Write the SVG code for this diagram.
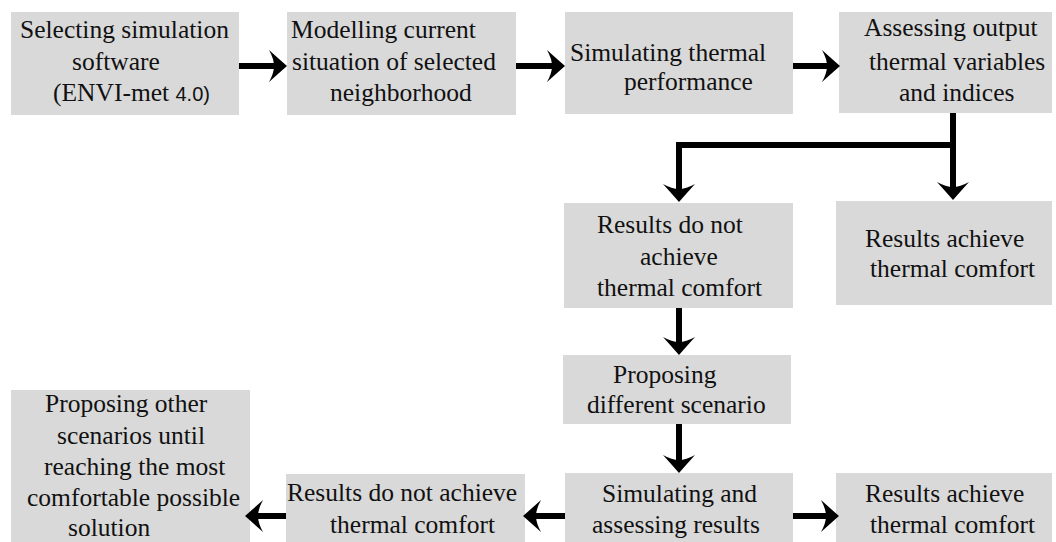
<svg xmlns="http://www.w3.org/2000/svg" width="1056" height="542" viewBox="0 0 1056 542">
<style>
.box{fill:#d9d9d9;}
.t{font-family:"Liberation Serif","Times New Roman",serif;font-size:25.5px;fill:#111;}
.s{font-family:"Liberation Sans",Arial,sans-serif;font-size:20px;}
.c{fill:none;stroke:#000;stroke-width:6;stroke-linejoin:miter;}
</style>
<defs>
<marker id="ah" viewBox="-20 -17 22 34" refX="-11" refY="0" markerWidth="22" markerHeight="34" markerUnits="userSpaceOnUse" orient="auto">
<path d="M0,0 Q-8,-7 -18,-16 Q-13,-7 -13,0 Q-13,7 -18,16 Q-8,7 0,0 Z" fill="#000"/>
</marker>
</defs>
<rect width="1056" height="542" fill="#fff"/>
<g id="n1"><rect class="box" x="11" y="12" width="228" height="103"/>
<text class="t"><tspan x="20" y="38">Selecting simulation</tspan><tspan x="72" y="70">software</tspan><tspan x="53" y="101">(ENVI-met <tspan class="s">4.0)</tspan></tspan></text></g>
<g id="n2"><rect class="box" x="287" y="12" width="229" height="103"/>
<text class="t"><tspan x="291" y="38">Modelling current</tspan><tspan x="292" y="70">situation of selected</tspan><tspan x="330" y="101">neighborhood</tspan></text></g>
<g id="n3"><rect class="box" x="565" y="12" width="228" height="102"/>
<text class="t"><tspan x="570" y="61">Simulating thermal</tspan><tspan x="624" y="90">performance</tspan></text></g>
<g id="n4"><rect class="box" x="839" y="12" width="213" height="101"/>
<text class="t"><tspan x="864" y="36">Assessing output</tspan><tspan x="869" y="70">thermal variables</tspan><tspan x="899" y="101">and indices</tspan></text></g>
<g id="n5"><rect class="box" x="564" y="203" width="229" height="105"/>
<text class="t"><tspan x="597" y="233">Results do not</tspan><tspan x="640" y="265">achieve</tspan><tspan x="597" y="296">thermal comfort</tspan></text></g>
<g id="n6"><rect class="box" x="836" y="201" width="216" height="104"/>
<text class="t"><tspan x="865" y="247">Results achieve</tspan><tspan x="870" y="277">thermal comfort</tspan></text></g>
<g id="n7"><rect class="box" x="563" y="355" width="228" height="69"/>
<text class="t"><tspan x="613" y="383">Proposing</tspan><tspan x="587" y="413">different scenario</tspan></text></g>
<g id="n8"><rect class="box" x="565" y="473" width="228" height="69"/>
<text class="t"><tspan x="602" y="502">Simulating and</tspan><tspan x="592" y="533">assessing results</tspan></text></g>
<g id="n9"><rect class="box" x="836" y="473" width="216" height="69"/>
<text class="t"><tspan x="865" y="502">Results achieve</tspan><tspan x="870" y="533">thermal comfort</tspan></text></g>
<g id="n10"><rect class="box" x="286" y="474" width="239" height="68"/>
<text class="t"><tspan x="287" y="501">Results do not achieve</tspan><tspan x="330" y="533">thermal comfort</tspan></text></g>
<g id="n11"><rect class="box" x="11" y="390" width="239" height="152"/>
<text class="t"><tspan x="45" y="412">Proposing other</tspan><tspan x="57" y="444">scenarios until</tspan><tspan x="44" y="475">reaching the most</tspan><tspan x="27" y="506">comfortable possible</tspan><tspan x="68" y="536">solution</tspan></text></g>
<g id="connectors">
<path class="c" d="M239,66 H276" marker-end="url(#ah)"/>
<path class="c" d="M516,66 H554" marker-end="url(#ah)"/>
<path class="c" d="M793,66 H829" marker-end="url(#ah)"/>
<path class="c" d="M953,113 V189" marker-end="url(#ah)"/>
<path class="c" d="M953,145 H679 V191" marker-end="url(#ah)"/>
<path class="c" d="M679,308 V344" marker-end="url(#ah)"/>
<path class="c" d="M679,424 V462" marker-end="url(#ah)"/>
<path class="c" d="M793,516 H828" marker-end="url(#ah)"/>
<path class="c" d="M565,516 H534" marker-end="url(#ah)"/>
<path class="c" d="M286,516 H256" marker-end="url(#ah)"/>
</g>
</svg>
